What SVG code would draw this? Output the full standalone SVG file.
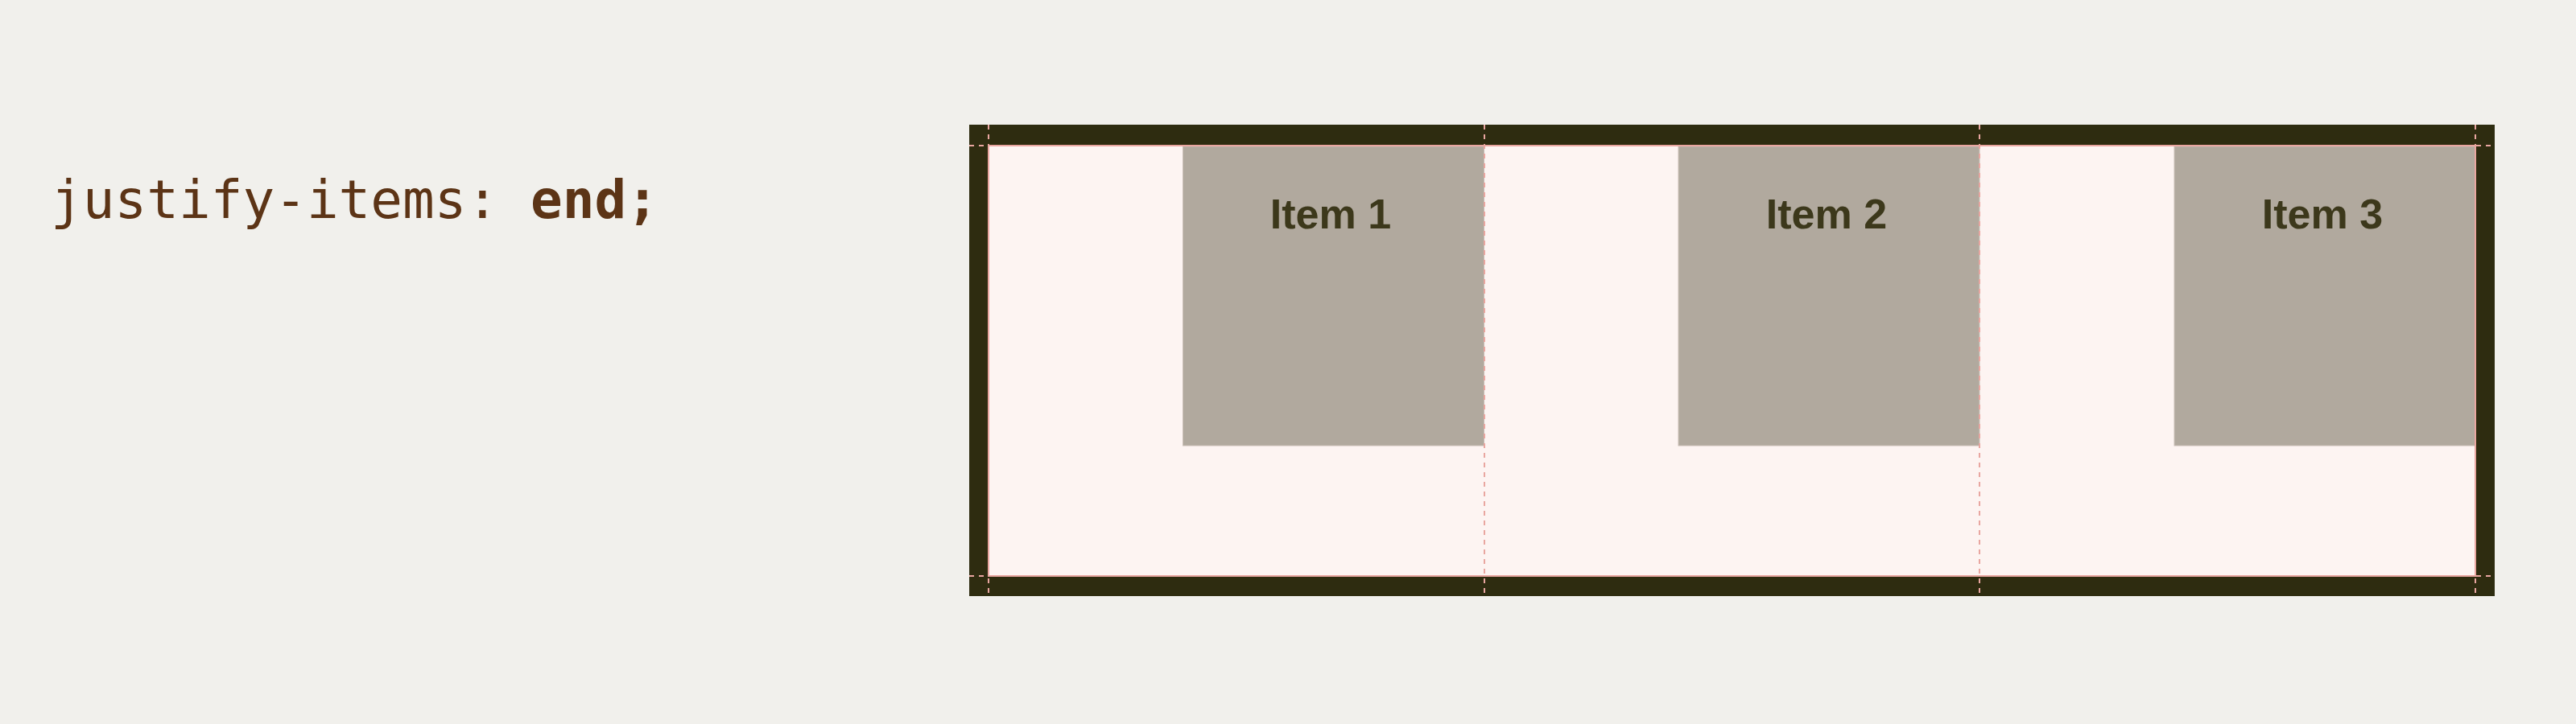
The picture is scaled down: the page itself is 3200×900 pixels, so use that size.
<svg xmlns="http://www.w3.org/2000/svg" width="3200" height="900" viewBox="0 0 3200 900">
  <style>
    .code { font-family: "DejaVu Sans Mono", "Liberation Mono", monospace; font-size: 66px; fill: #5c3416; }
    .bold { font-weight: bold; }
    .item rect { fill: #b1a99e; stroke: #c9beb6; stroke-width: 1; }
    .item text { font-family: "Liberation Sans", Arial, sans-serif; font-weight: bold; font-size: 52px; fill: #3c381b; text-anchor: middle; }
    .grid { stroke: #e9a6a0; stroke-width: 2; stroke-dasharray: 6 6; fill: none; }
    .edge { stroke: #e9a6a0; stroke-width: 2; fill: none; }
  </style>
  <rect x="0" y="0" width="3200" height="900" fill="#f1f0ec"/>
  <g id="code-label">
    <text class="code" x="63" y="271">justify-items: <tspan class="bold">end;</tspan></text>
  </g>
  <g id="container">
    <rect x="1204" y="155" width="1895" height="586" fill="#2e2c10"/>
    <rect x="1228" y="181" width="1847" height="535" fill="#fdf4f2"/>
  </g>
  <g id="item-1" class="item">
    <rect x="1469.5" y="182" width="374" height="372"/>
    <text x="1653" y="284">Item 1</text>
  </g>
  <g id="item-2" class="item">
    <rect x="2085" y="182" width="374" height="372"/>
    <text x="2269" y="284">Item 2</text>
  </g>
  <g id="item-3" class="item">
    <rect x="2701" y="182" width="374" height="372"/>
    <text x="2885" y="284">Item 3</text>
  </g>
  <g id="connectors">
    <rect class="edge" x="1228" y="181" width="1847" height="535"/>
    <line class="grid" x1="1228" y1="155" x2="1228" y2="741"/>
    <line class="grid" x1="1844" y1="155" x2="1844" y2="741"/>
    <line class="grid" x1="2459" y1="155" x2="2459" y2="741"/>
    <line class="grid" x1="3075" y1="155" x2="3075" y2="741"/>
    <line class="grid" x1="1204" y1="181" x2="3099" y2="181"/>
    <line class="grid" x1="1204" y1="716" x2="3099" y2="716"/>
  </g>
</svg>
